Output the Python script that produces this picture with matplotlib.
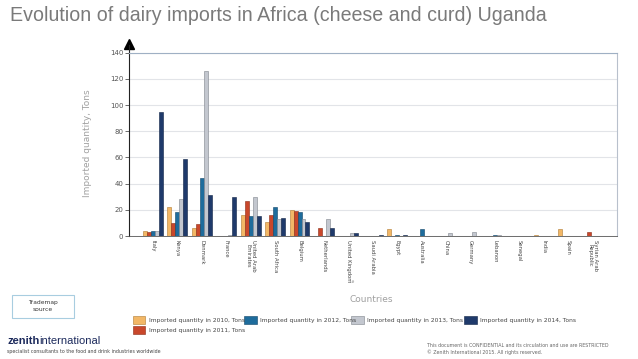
import numpy as np
import matplotlib.pyplot as plt
from matplotlib.patches import Rectangle

countries = ['Italy', 'Kenya', 'Denmark', 'France', 'United Arab\nEmirates',
             'South Africa', 'Belgium', 'Netherlands', 'United Kingdom',
             'Saudi Arabia', 'Egypt', 'Australia', 'China', 'Germany',
             'Lebanon', 'Senegal', 'India', 'Spain', 'Syrian Arab\nRepublic']

q2010 = [4, 22, 6, 0, 16, 11, 20, 0, 0, 0, 5, 0, 0, 0, 0, 0, 1, 5, 0]
q2011 = [3, 10, 9, 0, 27, 16, 19, 6, 0, 0, 0, 0, 0, 0, 0, 0, 0, 0, 3]
q2012 = [4, 18, 44, 0, 15, 22, 18, 0, 0, 0, 1, 5, 0, 0, 1, 0, 0, 0, 0]
q2013 = [4, 28, 126, 1, 30, 13, 13, 13, 2, 0, 0, 0, 2, 3, 1, 0, 0, 0, 0]
q2014 = [95, 59, 31, 30, 15, 14, 11, 6, 2, 1, 1, 0, 0, 0, 0, 0, 0, 0, 0]

series = [
    ('Imported quantity in 2010, Tons', q2010, '#f2b766', '#b07a30'),
    ('Imported quantity in 2011, Tons', q2011, '#c9472b', '#8a2a15'),
    ('Imported quantity in 2012, Tons', q2012, '#1e6c9c', '#0f4468'),
    ('Imported quantity in 2013, Tons', q2013, '#c3c7cf', '#7e838c'),
    ('Imported quantity in 2014, Tons', q2014, '#1f3a6b', '#0f2245'),
]

arial = ['Liberation Sans', 'DejaVu Sans']
fig = plt.figure(figsize=(6.38, 3.59), dpi=100)

fig.text(0.016, 0.958, 'Evolution of dairy imports in Africa (cheese and curd) Uganda',
         fontsize=14.1, color='#7a7a7a', va='center', ha='left', family=arial)

ax = fig.add_axes([0.2022, 0.3426, 0.765, 0.5106])
x = np.arange(len(countries))
w = 0.163
for i, (name, vals, fc, ec) in enumerate(series):
    ax.bar(x + (i - 2) * w, vals, width=w, color=fc, edgecolor=ec, linewidth=0.4,
           label=name, zorder=3)

ax.set_xlim(-0.98, 19.0)
ax.set_ylim(0, 140)
ax.set_yticks(range(0, 141, 20))
ax.yaxis.grid(True, color='#e2e4e8', linewidth=0.8, zorder=0)
ax.tick_params(axis='y', labelsize=5, colors='#555555', length=3, width=0.6, pad=1)
ax.set_xticks(x)
ax.set_xticklabels(countries, rotation=270, fontsize=3.8, color='#444444',
                   va='top', ha='center', linespacing=1.0)
ax.tick_params(axis='x', length=0, pad=3)
ax.spines['left'].set_color('#222222')
ax.spines['left'].set_linewidth(0.8)
ax.spines['bottom'].set_color('#555555')
ax.spines['bottom'].set_linewidth(0.6)
ax.spines['top'].set_color('#9fb0c4')
ax.spines['top'].set_linewidth(0.8)
ax.spines['right'].set_color('#b8c0cc')
ax.spines['right'].set_linewidth(0.8)
ax.plot([0], [1.045], marker='^', markersize=7, color='black', transform=ax.transAxes,
        clip_on=False)
ax.plot([0, 0], [1.0, 1.04], color='#222222', linewidth=0.8, transform=ax.transAxes,
        clip_on=False)

fig.text(0.137, 0.60, 'Imported quantity, Tons', rotation=90, fontsize=6.5,
         color='#a0a0a0', ha='center', va='center')
fig.text(0.582, 0.165, 'Countries', fontsize=6.5, color='#a0a0a0', ha='center', va='center')
fig.text(0.552, 0.215, '#', fontsize=3, color='#888888', ha='center', va='center')

handles, labels = ax.get_legend_handles_labels()
order = [0, 2, 3, 4, 1]
cols = [0.208, 0.383, 0.55, 0.728]
rows = [0.108, 0.08]
pos = [(0, 0), (1, 0), (2, 0), (3, 0), (0, 1)]
for (ci, ri), k in zip(pos, order):
    fc = series[k][2]
    ec = series[k][3]
    fig.patches.append(Rectangle((cols[ci], rows[ri] - 0.011), 0.02, 0.022,
                                 transform=fig.transFigure, facecolor=fc,
                                 edgecolor=ec, linewidth=0.4))
    fig.text(cols[ci] + 0.025, rows[ri], labels[k], fontsize=4.3, color='#444444',
             va='center', ha='left')

fig.patches.append(Rectangle((0.019, 0.115), 0.097, 0.063, transform=fig.transFigure,
                             facecolor='white', edgecolor='#a8cde0', linewidth=0.8))
fig.text(0.067, 0.147, 'Trademap\nsource', fontsize=4.3, color='#333333',
         ha='center', va='center', linespacing=1.5)

# logo: "zenith" bold followed directly by "international"
t1 = fig.text(0.011, 0.05, 'zenith', fontsize=8, fontweight='bold', color='#1c2a5c',
              ha='left', va='center', family=arial)
fig.canvas.draw()
bb = t1.get_window_extent()
fig.text(bb.x1 / fig.bbox.width, 0.05, 'international', fontsize=8, color='#1c2a5c',
         ha='left', va='center', family=arial)
fig.text(0.011, 0.022, 'specialist consultants to the food and drink industries worldwide',
         fontsize=3.4, color='#444444', ha='left', va='center')
fig.text(0.67, 0.037, 'This document is CONFIDENTIAL and its circulation and use are RESTRICTED',
         fontsize=3.4, color='#666666', ha='left', va='center')
fig.text(0.67, 0.018, '\u00a9 Zenith International 2015. All rights reserved.',
         fontsize=3.4, color='#666666', ha='left', va='center')

fig.savefig('out.png', dpi=100)
